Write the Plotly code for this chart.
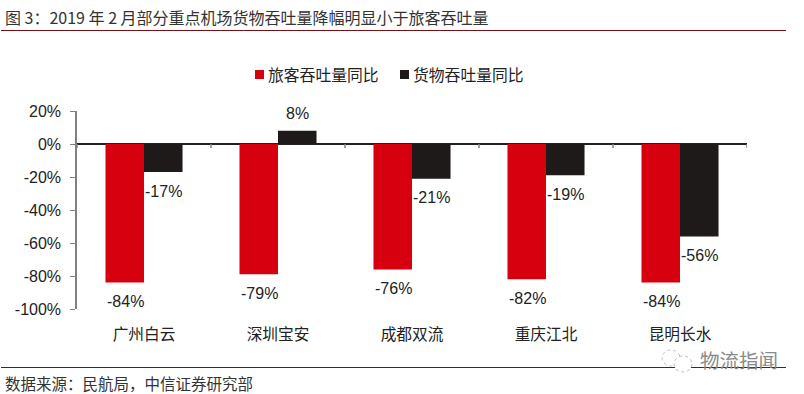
import plotly.graph_objects as go

categories = ["广州白云", "深圳宝安", "成都双流", "重庆江北", "昆明长水"]
passenger = [-84, -79, -76, -82, -84]
cargo = [-17, 8, -21, -19, -56]
boundaries = [0, 1, 2, 3, 4, 5]
y_ticks = [20, 0, -20, -40, -60, -80, -100]
series_names = ["旅客吞吐量同比", "货物吞吐量同比"]
series_colors = ["#d7000f", "#1e1a1a"]

W, H = 804, 394
L, R, T, B = 77, 57, 111, 85
LAT = "Liberation Sans, Arial, sans-serif"
CJK = "Noto Sans CJK SC, sans-serif"
centers = [i + 0.5 for i in range(len(categories))]

def px(x): return (x - L) / (W - L - R)
def py(y): return 1 - (y - T) / (H - T - B)

fig = go.Figure()
fig.add_bar(name=series_names[0], x=centers, y=passenger, marker_color=series_colors[0], marker_line_width=0)
fig.add_bar(name=series_names[1], x=centers, y=cargo, marker_color=series_colors[1], marker_line_width=0)
fig.add_scatter(
    x=boundaries, y=[0] * len(boundaries), mode="markers", showlegend=False, hoverinfo="skip",
    marker=dict(size=1, color="rgba(0,0,0,0)"),
    error_y=dict(type="data", symmetric=False, array=[0] * 6, arrayminus=[2.4] * 6,
                 width=0, thickness=1.5, color="#808080"),
)

annotations = []
for xc, p, c in zip(centers, passenger, cargo):
    annotations.append(dict(x=xc, y=p, xref="x", yref="y", text=f"{p}%", showarrow=False,
                            xshift=-19, yshift=-19, font=dict(family=LAT, size=16, color="#222")))
    annotations.append(dict(x=xc, y=c, xref="x", yref="y", text=f"{c}%", showarrow=False,
                            xshift=19, yshift=17 if c > 0 else -19,
                            font=dict(family=LAT, size=16, color="#222")))

def page_text(x, y, text, size, color):
    return dict(x=px(x), y=py(y), xref="paper", yref="paper", xanchor="left", yanchor="middle",
                showarrow=False, text=text, font=dict(family=CJK, size=size, color=color))

annotations += [
    page_text(3, 17.5, "图 3：2019 年 2 月部分重点机场货物吞吐量降幅明显小于旅客吞吐量", 16, "#333"),
    page_text(3, 383, "数据来源：民航局，中信证券研究部", 15.5, "#333"),
    page_text(698, 359, "物流指闻", 19.5, "#8a8a8a"),
    page_text(266, 75, series_names[0], 15.8, "#222"),
    page_text(411, 75, series_names[1], 15.8, "#222"),
]

shapes = [
    dict(type="line", xref="paper", yref="paper", x0=px(1), x1=px(786), y0=py(30.5), y1=py(30.5),
         line=dict(color="#7a1015", width=1)),
    dict(type="line", xref="paper", yref="paper", x0=px(1), x1=px(786), y0=py(367.5), y1=py(367.5),
         line=dict(color="#7a1015", width=1)),
    dict(type="rect", xref="paper", yref="paper", x0=px(255), x1=px(264), y0=py(79), y1=py(70),
         fillcolor=series_colors[0], line_width=0),
    dict(type="rect", xref="paper", yref="paper", x0=px(400), x1=px(409), y0=py(79), y1=py(70),
         fillcolor=series_colors[1], line_width=0),
    dict(type="circle", xref="paper", yref="paper", x0=px(662), x1=px(680), y0=py(366), y1=py(350),
         line=dict(color="#bdbdbd", width=1, dash="dot")),
    dict(type="circle", xref="paper", yref="paper", x0=px(674), x1=px(692), y0=py(372), y1=py(356),
         fillcolor="white", line=dict(color="#bdbdbd", width=1, dash="dot")),
]

fig.update_layout(
    width=W, height=H, margin=dict(l=L, r=R, t=T, b=B, pad=0),
    paper_bgcolor="white", plot_bgcolor="white", barmode="group", bargap=0.425, bargroupgap=0,
    showlegend=False,
    xaxis=dict(range=[0, 5], tickmode="array", tickvals=centers, ticktext=categories,
               showgrid=False, zeroline=False, showline=False, ticks="outside", ticklen=11,
               tickcolor="rgba(0,0,0,0)", tickfont=dict(family=CJK, size=15.7, color="#222")),
    yaxis=dict(range=[-100, 20], tickmode="array", tickvals=y_ticks, ticktext=[f"{v}%" for v in y_ticks],
               showgrid=False, zeroline=True, zerolinecolor="#222", zerolinewidth=1.5,
               showline=True, linecolor="#808080", linewidth=1.5, ticks="outside", ticklen=5,
               tickcolor="#808080", ticklabelstandoff=6,
               tickfont=dict(family=LAT, size=16, color="#222")),
    annotations=annotations, shapes=shapes,
)
fig.write_html("out.html", post_script="document.body.style.margin='0';",
               config={"displayModeBar": False})
